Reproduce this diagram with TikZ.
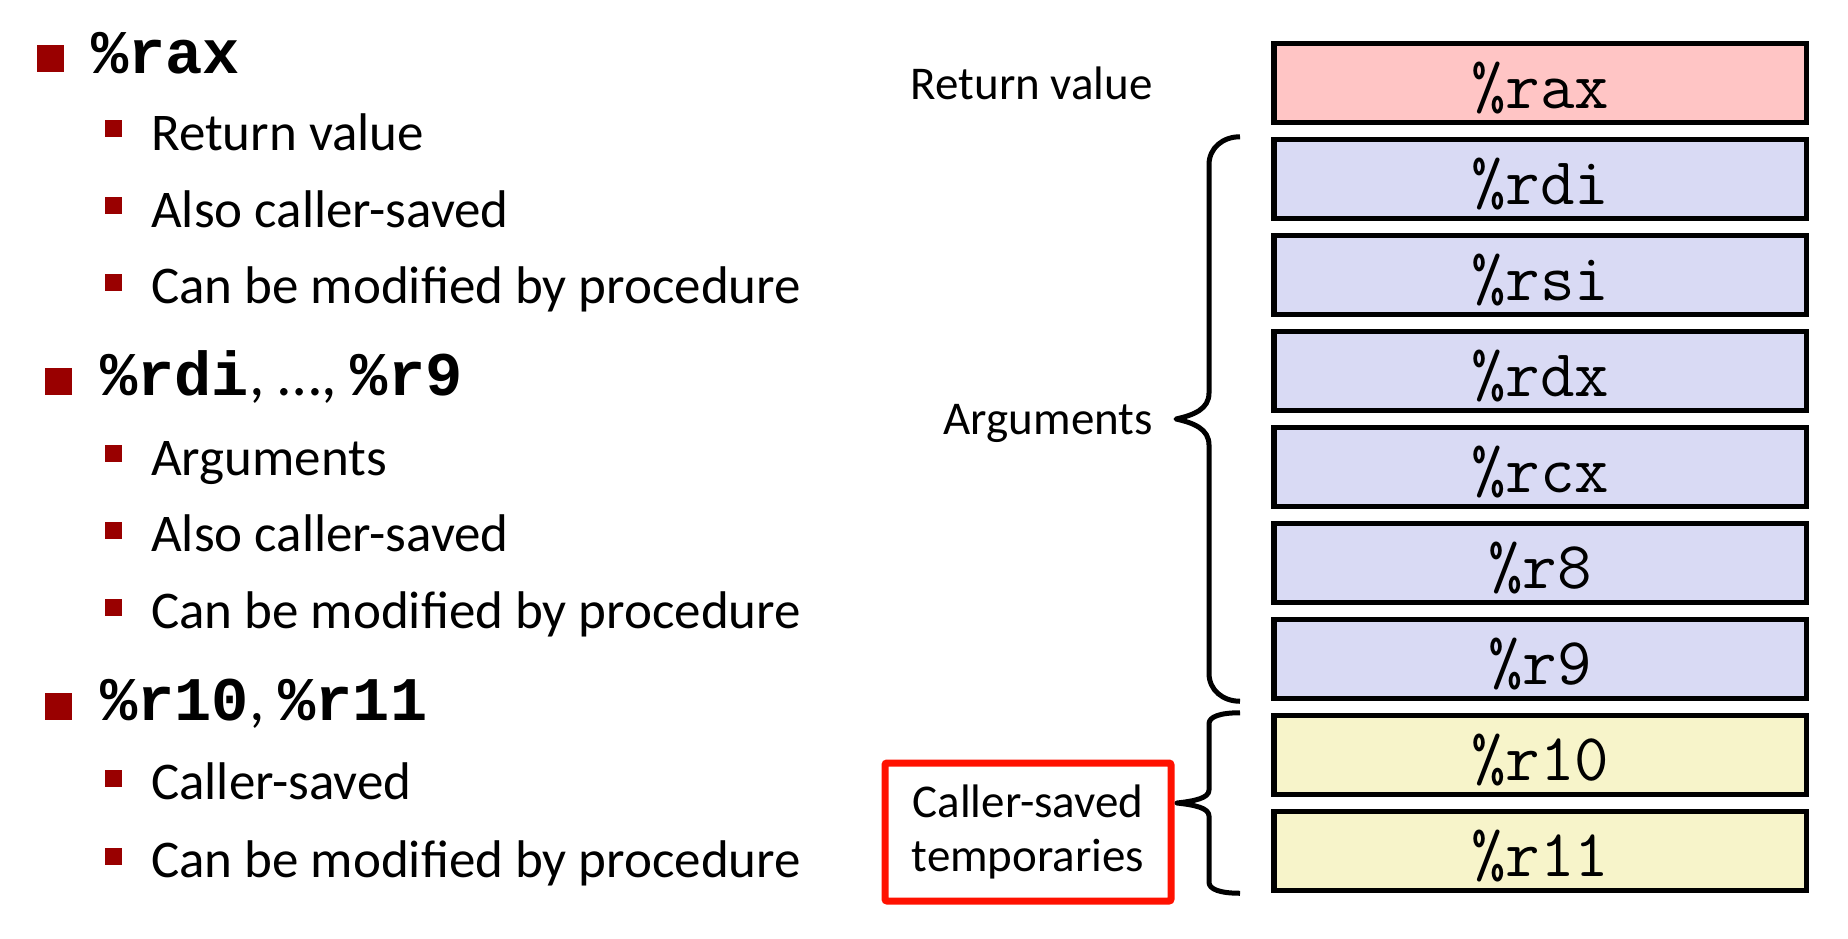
\documentclass[tikz,border=0pt]{standalone}
\usepackage{fontspec}
\setmainfont{Carlito}
\newfontfamily\monof{Liberation Mono}
\usetikzlibrary{calc}
\definecolor{bulletred}{RGB}{153,0,0}
\definecolor{raxfill}{RGB}{255,197,197}
\definecolor{argfill}{RGB}{217,218,244}
\definecolor{tmpfill}{RGB}{247,244,202}
\definecolor{boxred}{RGB}{255,17,0}
\newcommand\hcode[1]{{\monof\bfseries\fontsize{62}{70}\selectfont\%#1}}
\begin{document}
\begin{tikzpicture}[x=1pt,y=-1pt,
  hbullet/.style={rectangle,fill=bulletred,minimum size=27pt,inner sep=0pt},
  sbullet/.style={rectangle,fill=bulletred,minimum size=17pt,inner sep=0pt},
  htext/.style={anchor=base west,inner sep=0pt,font=\fontsize{62}{70}\selectfont},
  stext/.style={anchor=base west,inner sep=0pt,font=\fontsize{53}{60}\selectfont},
  reg/.style={rectangle,draw=black,line width=5.5pt,minimum width=532.5pt,minimum height=79pt,inner sep=0pt,text height=50pt,text depth=0pt,font=\ttfamily\fontsize{67}{70}\selectfont},
  lbl/.style={anchor=base east,inner sep=0pt,font=\fontsize{47}{54}\selectfont},
  brc/.style={draw=black,line width=5pt,line join=round},
  redbox/.style={draw=boxred,line width=7pt,rounded corners=2pt,minimum width=286pt,minimum height=138pt,align=center,inner sep=0pt,font=\fontsize{47}{54}\selectfont}
]
\fill[white] (0,0) rectangle (1848,938);
\useasboundingbox (0,0) rectangle (1848,938);

% left column: headings
\node[hbullet] (hb1) at (50,58.5) {};
\node[htext] (h1) at (91,73) {\hcode{rax}};
\node[hbullet] (hb2) at (58,381.5) {};
\node[htext] (h2) at (100,395) {\hcode{rdi}, …, \hcode{r9}};
\node[hbullet] (hb3) at (58.5,706.5) {};
\node[htext] (h3) at (100,720) {\hcode{r10}, \hcode{r11}};

% sub items
\foreach \nm/\yb/\yt/\txt in {
  s1/128.5/150/Return value,
  s2/205/227/Also caller-saved,
  s3/282.5/303/Can be modified by procedure,
  s4/453.5/475/Arguments,
  s5/530/551/Also caller-saved,
  s6/607.5/628/Can be modified by procedure,
  s7/778.5/799/Caller-saved,
  s8/856/877/Can be modified by procedure}{
  \node[sbullet] (\nm b) at (113.5,\yb) {};
  \node[stext] (\nm) at (151,\yt) {\txt};
}

% register stack
\foreach \n/\c [count=\i from 0] in {rax/raxfill,rdi/argfill,rsi/argfill,rdx/argfill,rcx/argfill,r8/argfill,r9/argfill,r10/tmpfill,r11/tmpfill}{
  \node[reg,fill=\c] (\n) at (1540,{83+96*\i}) {\%\n};
}

% labels
\node[lbl] (rv) at (1153,99) {Return value};
\node[lbl] (args) at (1153,434) {Arguments};
\node[redbox] (cst) at (1028,832) {Caller-saved\\temporaries};

% argument brace
\coordinate (bt) at ([xshift=-31pt]rdi.north west);
\coordinate (bb) at ([xshift=-31pt]r9.south west);
\coordinate (bm) at ($(bt)!0.5!(bb)+(-64pt,0pt)$);
\draw[brc] (bt) .. controls +(-17,0) and +(0,-17) .. ++(-31,28)
  -- ($(bm)+(33,-26)$) .. controls +(0,16) and +(18,-4) .. (bm)
  .. controls +(18,4) and +(0,-16) .. ($(bm)+(33,26)$)
  -- ($(bb)+(-31,-28)$) .. controls +(0,17) and +(-17,0) .. (bb);

% temporaries brace
\coordinate (ct) at ([xshift=-31pt]r10.north west);
\coordinate (cb) at ([xshift=-31pt]r11.south west);
\coordinate (cm) at ($(ct)!0.5!(cb)+(-63pt,0pt)$);
\draw[brc] (ct) .. controls +(-20,0) and +(0,-7) .. ++(-31,11)
  -- ($(cm)+(32,-13)$) .. controls +(0,8) and +(18,-2) .. (cm)
  .. controls +(18,2) and +(0,-8) .. ($(cm)+(32,13)$)
  -- ($(cb)+(-31,-11)$) .. controls +(0,7) and +(-20,0) .. (cb);
\end{tikzpicture}
\end{document}
